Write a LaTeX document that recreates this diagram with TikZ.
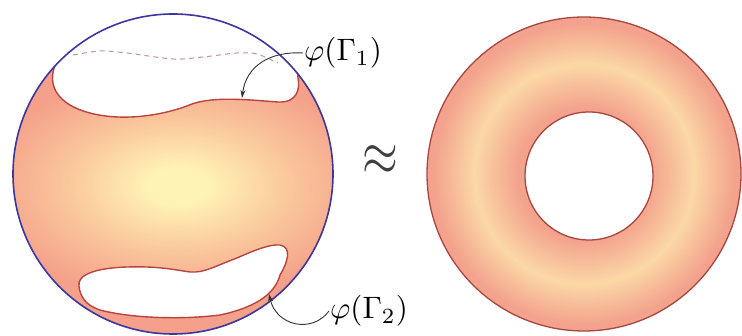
\documentclass[tikz,border=0pt]{standalone}
\usepackage{graphicx}
\usetikzlibrary{arrows.meta}
\definecolor{scream}{HTML}{FFF2B4}
\definecolor{speach}{HTML}{FAC89C}
\definecolor{ssalmon}{HTML}{F4A08A}
\definecolor{tcream}{HTML}{FBD8A6}
\definecolor{tsalmon}{HTML}{F3A28D}
\definecolor{holered}{HTML}{B8443F}
\definecolor{torusred}{HTML}{A8463F}
\definecolor{sphblue}{HTML}{3C36A0}
\definecolor{dashcol}{HTML}{C8909A}
\definecolor{approxcol}{HTML}{404040}
\pgfdeclareradialshading{sphshade}{\pgfpoint{0bp}{0bp}}{color(0bp)=(scream); color(4bp)=(scream); color(14bp)=(speach); color(25bp)=(ssalmon); color(50bp)=(ssalmon)}
\pgfdeclareradialshading{torshade}{\pgfpoint{0bp}{0bp}}{color(0bp)=(tsalmon); color(10.5bp)=(tsalmon); color(17.5bp)=(tcream); color(24bp)=(tsalmon); color(50bp)=(tsalmon)}
\tikzset{
  holeline/.style={draw=holered, line width=1.4pt},
  labeltext/.style={anchor=west, inner sep=1pt},
  pointer/.style={draw=black!80, line width=0.9pt, -{Stealth[length=8pt,width=5pt]}}
}
\newcommand{\biglabel}[1]{\scalebox{3.1}{$#1$}}
\begin{document}
\begin{tikzpicture}[x=1pt,y=-1pt]
\useasboundingbox (0,0) rectangle (742,336);
% sphere
\begin{scope}
  \clip (173,174) circle (160pt);
  \fill[ssalmon] (173,174) circle (160pt);
  \shade[shading=sphshade] (178,186) ellipse (195pt and 115pt);
  % top cap cut away
  \fill[white] (61,55) .. controls (46,75) and (48,102) .. (90,113)
     .. controls (120,121) and (160,117) .. (192,104)
     .. controls (215,96) and (250,100) .. (278,102)
     .. controls (298,103) and (300,88) .. (298,78)
     -- (297,65) -- (300,0) -- (0,0) -- (0,55) -- cycle;
  \draw[holeline] (61,55) .. controls (46,75) and (48,102) .. (90,113)
     .. controls (120,121) and (160,117) .. (192,104)
     .. controls (215,96) and (250,100) .. (278,102)
     .. controls (298,103) and (300,88) .. (298,78)
     -- (297,65);
\end{scope}
\draw[dashcol, line width=1pt, dash pattern=on 5pt off 4pt]
  plot[smooth] coordinates {(73,55) (100,51) (127,53) (173,59) (203,57) (237,53) (257,54) (278,63)};
% bottom hole
\filldraw[holeline, fill=white] (79,286) .. controls (77,275) and (95,268) .. (127,267)
   .. controls (160,266) and (175,270) .. (190,272)
   .. controls (205,273) and (215,266) .. (237,258)
   .. controls (255,250) and (270,244) .. (280,245)
   .. controls (292,247) and (288,262) .. (280,275)
   .. controls (276,290) and (262,306) .. (220,315)
   .. controls (180,320) and (130,318) .. (100,310)
   .. controls (85,305) and (80,296) .. (79,286) -- cycle;
\draw[sphblue, line width=1.6pt] (173,174) circle (160pt);
% labels and pointers
\node[labeltext] (g1) at (303,53) {\biglabel{\varphi(\Gamma_1)}};
\node[labeltext] (g2) at (329,311) {\biglabel{\varphi(\Gamma_2)}};
\coordinate (t1) at (242,98);
\coordinate (t2) at (269,294);
\draw[pointer] (g1.west) .. controls (270,51) and (246,66) .. (t1);
\draw[pointer] (g2.west) .. controls (312,334) and (276,326) .. (t2);
% approx
\node[text=approxcol, inner sep=0pt] (ap) at (380,161) {\scalebox{4.6}[6.2]{$\approx$}};
% torus
\shade[shading=torshade, even odd rule] (584,174) circle (157pt) (589,176) circle (64pt);
\draw[torusred, line width=1.3pt] (584,174) circle (157pt);
\draw[torusred, line width=1.3pt] (589,176) circle (64pt);
\end{tikzpicture}
\end{document}
